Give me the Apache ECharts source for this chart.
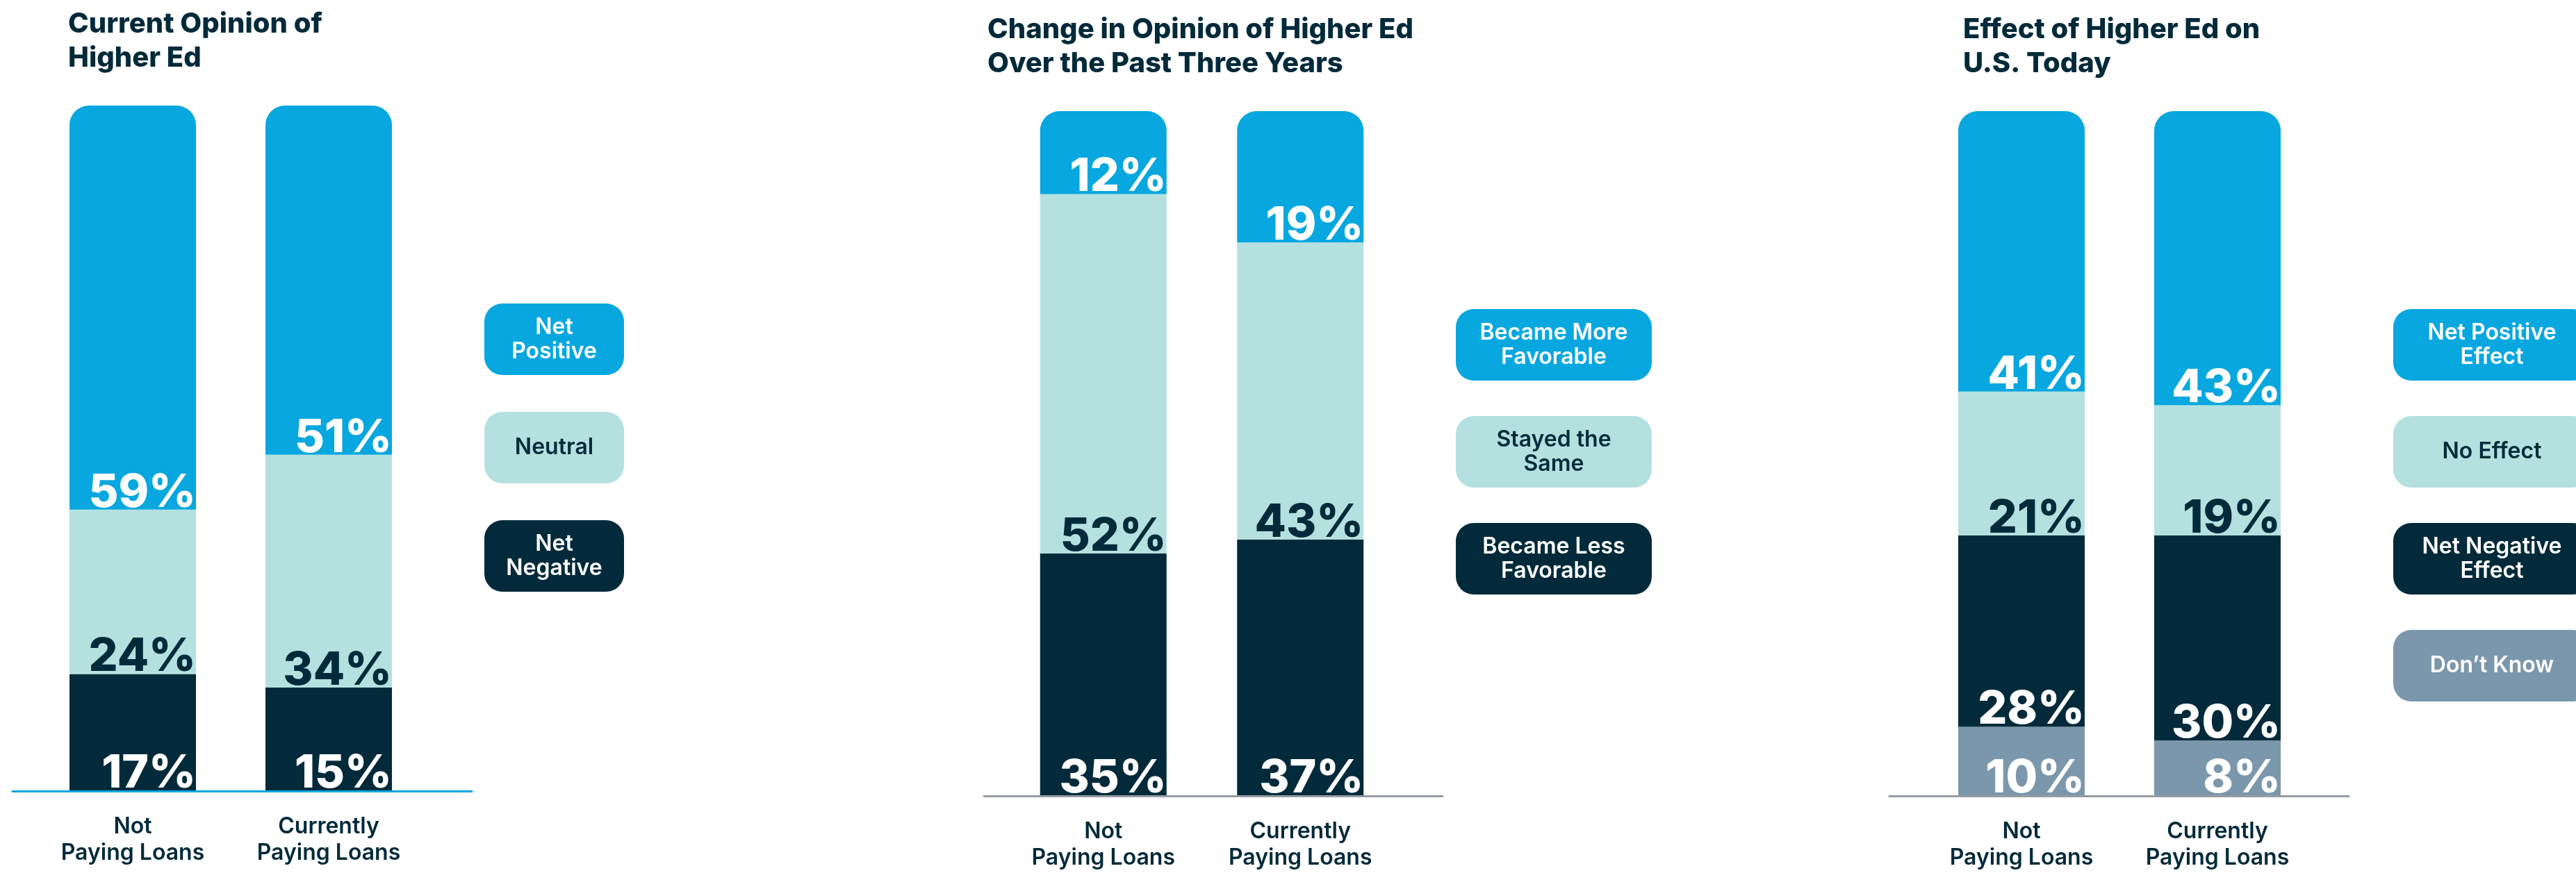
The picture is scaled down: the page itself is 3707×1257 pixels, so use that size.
<!DOCTYPE html>
<html>
<head>
<meta charset="utf-8">
<title>Opinion of Higher Ed by Loan Repayment Status</title>
<script src="https://cdn.jsdelivr.net/npm/echarts@6/dist/echarts.min.js"></script>
<style>
  html, body { margin: 0; padding: 0; background: #ffffff; }
  #chart { width: 3707px; height: 1257px; }
</style>
</head>
<body>
<div id="chart"></div>
<script>
// Respondent groups (x-axis)
const categories = ['Not\nPaying Loans', 'Currently\nPaying Loans'];

// Current Opinion of Higher Ed (%)
const opinionPositive = [59, 51];
const opinionNeutral  = [24, 34];
const opinionNegative = [17, 15];

// Change in Opinion over the past three years (%)
const changeMore = [12, 19];
const changeSame = [52, 43];
const changeLess = [35, 37];

// Effect of Higher Ed on U.S. today (%)
const effectPositive = [41, 43];
const effectNone     = [21, 19];
const effectNegative = [28, 30];
const effectUnknown  = [10, 8];

const titles = [
  'Current Opinion of\nHigher Ed',
  'Change in Opinion of Higher Ed\nOver the Past Three Years',
  'Effect of Higher Ed on\nU.S. Today'
];

const BLUE = '#08a7df';
const TEAL = '#b4e1e0';
const NAVY = '#022a3a';
const SLATE = '#7b97ab';
const WHITE = '#ffffff';
const FONT = "Inter, 'Liberation Sans', sans-serif";

function totalOf(...cols) {
  return Math.max(...cols[0].map((_, i) => cols.reduce((s, c) => s + c[i], 0)));
}

function segment(name, values, color, labelColor, gridIndex, roundTop) {
  return {
    name: name,
    type: 'bar',
    xAxisIndex: gridIndex,
    yAxisIndex: gridIndex,
    stack: 'g' + gridIndex,
    data: values,
    barWidth: 182,
    itemStyle: { color: color, borderRadius: roundTop ? [28, 28, 0, 0] : 0 },
    label: {
      show: true,
      position: 'insideBottomRight',
      distance: 0,
      formatter: '{c}%',
      color: labelColor,
      fontFamily: FONT,
      fontWeight: 800,
      fontSize: 66,
      lineHeight: 48
    },
    emphasis: { disabled: true },
    silent: true
  };
}

function legendBlock(items, left, top, width, gap) {
  const base = { width: width, align: 'center', fontFamily: FONT, fontWeight: 600, fontSize: 32, lineHeight: 35 };
  return {
    orient: 'vertical',
    left: left - 5,
    top: top,
    padding: 0,
    itemGap: gap,
    itemWidth: 0,
    itemHeight: 0,
    icon: 'rect',
    selectedMode: false,
    data: items.map(it => {
      const lines = it.name.split('\n').length;
      const pad = (103 - lines * 35) / 2;
      return {
        name: it.name,
        textStyle: { backgroundColor: it.color, borderRadius: 26, padding: [pad, 0, pad, 0] }
      };
    }),
    formatter: function (name) {
      const it = items.find(d => d.name === name);
      const style = it.text === WHITE ? 'w' : 'n';
      return name.split('\n').map(l => '{' + style + '|' + l + '}').join('\n');
    },
    textStyle: {
      rich: {
        w: Object.assign({ color: WHITE }, base),
        n: Object.assign({ color: NAVY }, base)
      }
    }
  };
}

// bar grids (0-2) and baseline grids (3-5)
const grids = [
  { left: 50,   width: 564, top: 152, bottom: 119 },
  { left: 1446, width: 567, top: 160, bottom: 112 },
  { left: 2768, width: 564, top: 160, bottom: 112 },
  { left: 18,   width: 661, top: 152, bottom: 117.5 },
  { left: 1416, width: 660, top: 160, bottom: 110.5 },
  { left: 2719, width: 661, top: 160, bottom: 110.5 }
];

const maxes = [
  totalOf(opinionPositive, opinionNeutral, opinionNegative),
  totalOf(changeMore, changeSame, changeLess),
  totalOf(effectPositive, effectNone, effectNegative, effectUnknown)
];

const xAxes = [0, 1, 2].map(i => ({
  type: 'category',
  gridIndex: i,
  data: categories,
  axisLine: { show: false },
  axisTick: { show: false },
  axisLabel: {
    interval: 0,
    margin: 33,
    color: NAVY,
    fontFamily: FONT,
    fontWeight: 600,
    fontSize: 32,
    lineHeight: 38
  }
})).concat([BLUE, '#959ca3', '#959ca3'].map((c, k) => ({
  type: 'value',
  gridIndex: 3 + k,
  min: 0,
  max: 1,
  axisLine: { show: true, lineStyle: { color: c, width: 3 } },
  axisTick: { show: false },
  axisLabel: { show: false },
  splitLine: { show: false }
})));

const yAxes = [0, 1, 2].map(i => ({
  type: 'value', gridIndex: i, min: 0, max: maxes[i], show: false
})).concat([3, 4, 5].map(i => ({
  type: 'value', gridIndex: i, min: 0, max: 1, show: false
})));

const series = [
  segment('Net\nNegative', opinionNegative, NAVY, WHITE, 0, false),
  segment('Neutral', opinionNeutral, TEAL, NAVY, 0, false),
  segment('Net\nPositive', opinionPositive, BLUE, WHITE, 0, true),

  segment('Became Less\nFavorable', changeLess, NAVY, WHITE, 1, false),
  segment('Stayed the\nSame', changeSame, TEAL, NAVY, 1, false),
  segment('Became More\nFavorable', changeMore, BLUE, WHITE, 1, true),

  segment("Don\u2019t Know", effectUnknown, SLATE, WHITE, 2, false),
  segment('Net Negative\nEffect', effectNegative, NAVY, WHITE, 2, false),
  segment('No Effect', effectNone, TEAL, NAVY, 2, false),
  segment('Net Positive\nEffect', effectPositive, BLUE, WHITE, 2, true)
];

const titleStyle = { fontFamily: FONT, fontWeight: 800, fontSize: 40, lineHeight: 49, color: NAVY };

const option = {
  animation: false,
  backgroundColor: '#ffffff',
  title: [
    { text: titles[0], left: 98, top: 10, padding: 0, textStyle: titleStyle },
    { text: titles[1], left: 1421, top: 18, padding: 0, textStyle: titleStyle },
    { text: titles[2], left: 2825, top: 18, padding: 0, textStyle: titleStyle }
  ],
  legend: [
    legendBlock([
      { name: 'Net\nPositive', color: BLUE, text: WHITE },
      { name: 'Neutral', color: TEAL, text: NAVY },
      { name: 'Net\nNegative', color: NAVY, text: WHITE }
    ], 697, 437, 201, 53),
    legendBlock([
      { name: 'Became More\nFavorable', color: BLUE, text: WHITE },
      { name: 'Stayed the\nSame', color: TEAL, text: NAVY },
      { name: 'Became Less\nFavorable', color: NAVY, text: WHITE }
    ], 2095, 445, 282, 51),
    legendBlock([
      { name: 'Net Positive\nEffect', color: BLUE, text: WHITE },
      { name: 'No Effect', color: TEAL, text: NAVY },
      { name: 'Net Negative\nEffect', color: NAVY, text: WHITE },
      { name: "Don\u2019t Know", color: SLATE, text: WHITE }
    ], 3444, 445, 284, 51)
  ],
  grid: grids,
  xAxis: xAxes,
  yAxis: yAxes,
  series: series
};

const chart = echarts.init(document.getElementById('chart'), null, { renderer: 'canvas' });
chart.setOption(option);
</script>
</body>
</html>
